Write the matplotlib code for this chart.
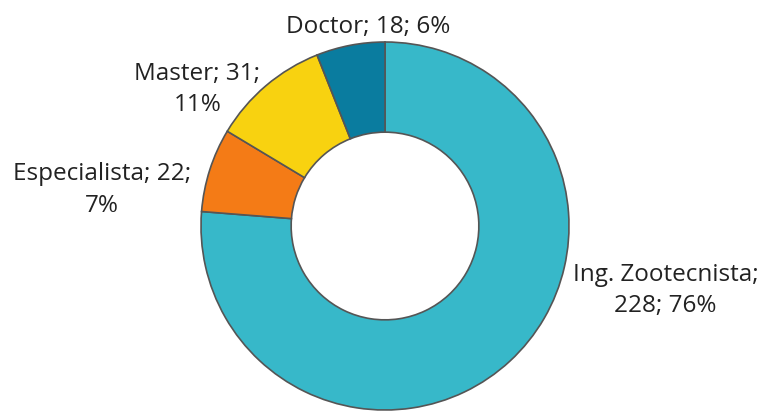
import matplotlib
matplotlib.use("Agg")
import matplotlib.pyplot as plt

categories = ["Ing. Zootecnista", "Especialista", "Master", "Doctor"]
counts = [228, 22, 31, 18]
pct_labels = ["76%", "7%", "11%", "6%"]
colors = ["#37B8C9", "#F47B16", "#F8D210", "#0A7C9F"]

plt.rcParams["font.family"] = ["Open Sans", "DejaVu Sans"]

W, H = 763, 411
cx, cy, R = 385, 226, 184  # pixel centre and outer radius

fig = plt.figure(figsize=(W / 100, H / 100), dpi=100)
ax = fig.add_axes([0, 0, 1, 1])
ax.pie(counts, colors=colors, startangle=90, counterclock=False, radius=1,
       wedgeprops=dict(width=0.49, edgecolor="#555555", linewidth=1.2))
ax.set_xlim(-cx / R, (W - cx) / R)
ax.set_ylim(-(H - cy) / R, cy / R)
ax.set_aspect("equal")
ax.axis("off")

# label text with its line breaks, positions in radius units
texts = [
    f"{categories[0]};\n{counts[0]}; {pct_labels[0]}",
    f"{categories[1]}; {counts[1]};\n{pct_labels[1]}",
    f"{categories[2]}; {counts[2]};\n{pct_labels[2]}",
    f"{categories[3]}; {counts[3]}; {pct_labels[3]}",
]
pos = [(1.525, -0.35), (-1.54, 0.196), (-1.02, 0.74), (-0.09, 1.08)]
for t, (x, y) in zip(texts, pos):
    ax.text(x, y, t, ha="center", va="center", fontsize=17.5,
            color="#222222", linespacing=1.4)

fig.savefig("out.png", dpi=100)
